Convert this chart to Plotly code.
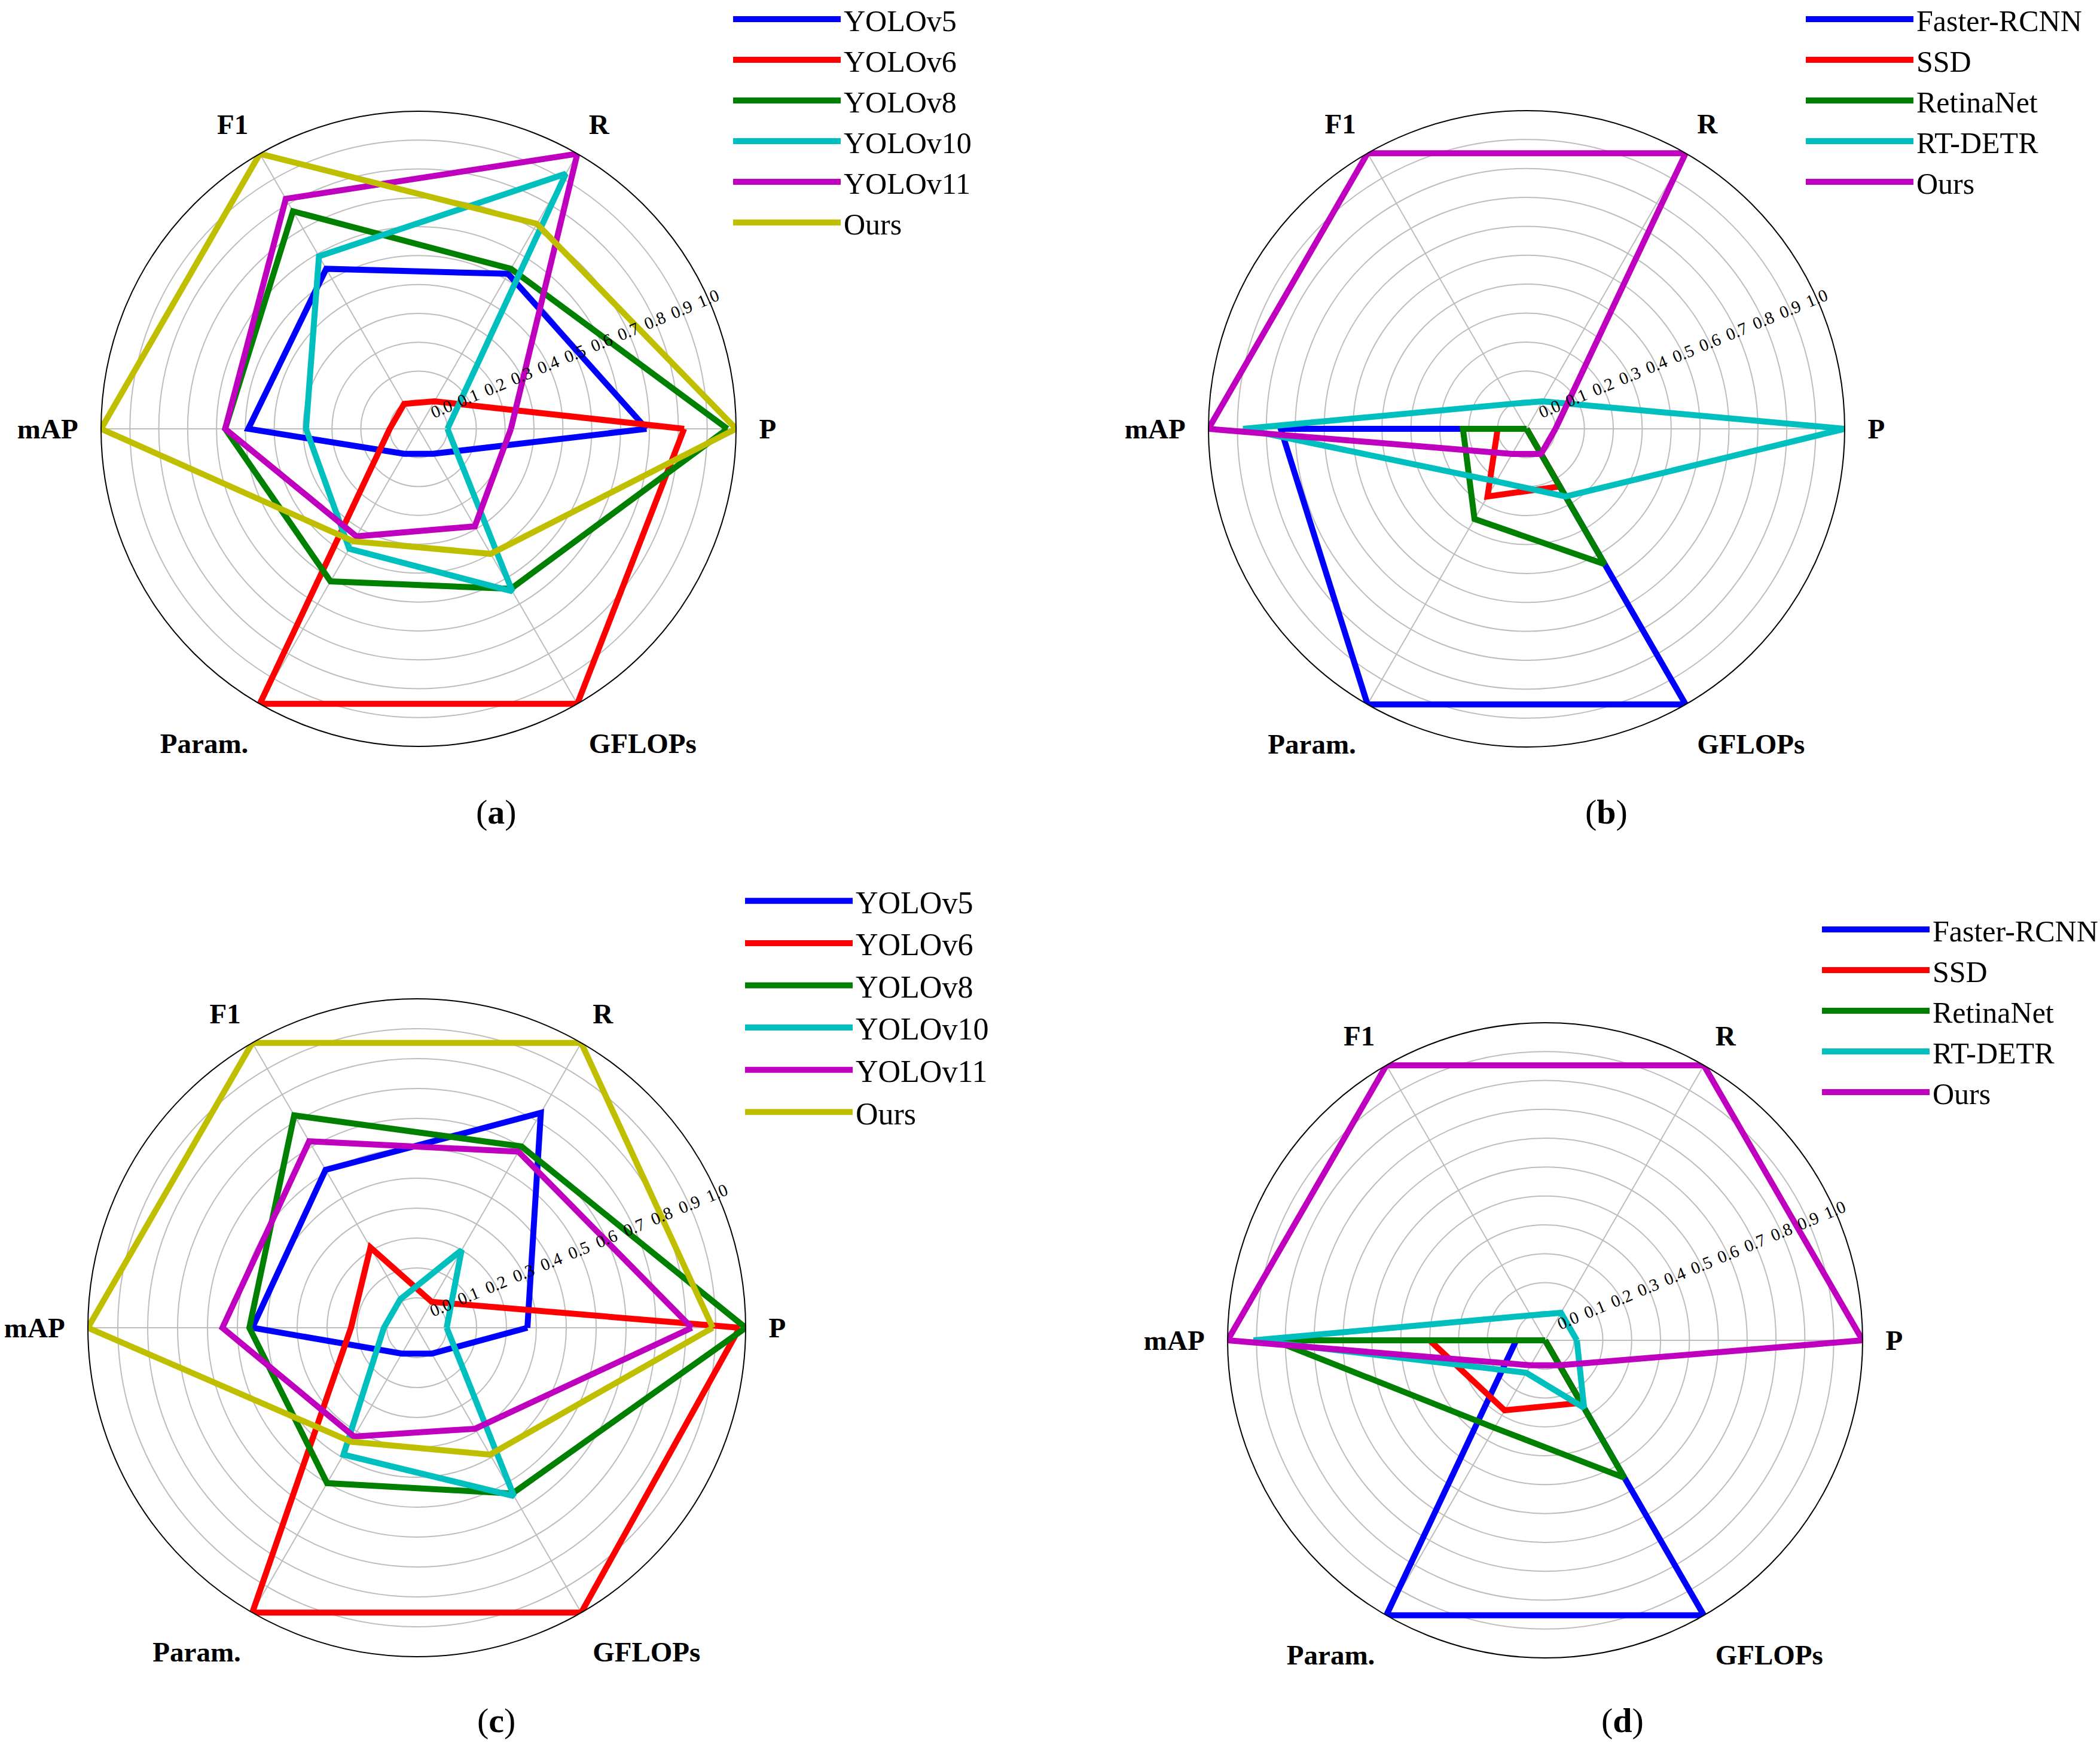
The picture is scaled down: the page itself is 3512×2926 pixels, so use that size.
import plotly.graph_objects as go

# ---------------- data ----------------
AXES = ["P", "R", "F1", "mAP", "Param.", "GFLOPs"]
RADIAL_TICKS = [0.0, 0.1, 0.2, 0.3, 0.4, 0.5, 0.6, 0.7, 0.8, 0.9, 1.0]

YOLO_MODELS = ["YOLOv5", "YOLOv6", "YOLOv8", "YOLOv10", "YOLOv11", "Ours"]
DET_MODELS = ["Faster-RCNN", "SSD", "RetinaNet", "RT-DETR", "Ours"]

# (a) YOLO comparison, values in AXES order
a_yolov5 = [0.69, 0.52, 0.54, 0.49, 0.00, 0.00]
a_yolov6 = [0.82, 0.01, 0.00, 0.00, 1.00, 1.00]
a_yolov8 = [0.97, 0.54, 0.77, 0.57, 0.51, 0.54]
a_yolov10 = [0.00, 0.92, 0.59, 0.29, 0.38, 0.55]
a_yolov11 = [0.22, 1.00, 0.82, 0.57, 0.33, 0.29]
a_ours = [1.00, 0.72, 1.00, 1.00, 0.35, 0.40]

# (b) detector comparison
b_faster = [-0.10, -0.10, -0.10, 0.75, 1.00, 1.00]
b_ssd = [-0.10, -0.10, -0.10, 0.00, 0.17, 0.13]
b_retina = [-0.10, -0.10, -0.10, 0.12, 0.26, 0.44]
b_rtdetr = [1.00, 0.01, 0.00, 0.88, 0.11, 0.17]
b_ours = [0.00, 1.00, 1.00, 1.00, 0.00, 0.00]

# (c) YOLO comparison
c_yolov5 = [0.27, 0.73, 0.51, 0.45, 0.00, 0.00]
c_yolov6 = [0.98, 0.00, 0.21, 0.12, 1.00, 1.00]
c_yolov8 = [1.00, 0.60, 0.72, 0.46, 0.50, 0.54]
c_yolov10 = [0.00, 0.20, 0.01, 0.01, 0.39, 0.55]
c_yolov11 = [0.82, 0.58, 0.62, 0.55, 0.32, 0.29]
c_ours = [0.89, 1.00, 1.00, 1.00, 0.34, 0.39]

# (d) detector comparison
d_faster = [-0.10, -0.10, -0.10, 0.00, 1.00, 1.00]
d_ssd = [-0.10, -0.10, -0.10, 0.30, 0.18, 0.15]
d_retina = [-0.10, -0.10, -0.10, 0.84, 0.25, 0.45]
d_rtdetr = [0.01, 0.01, 0.00, 0.91, 0.03, 0.17]
d_ours = [1.00, 1.00, 1.00, 1.00, 0.00, 0.00]

PANEL_LABELS = ["a", "b", "c", "d"]

# ---------------- styles ----------------
YOLO_COLORS = ["#0000FF", "#FF0000", "#008000", "#00BFBF", "#BF00BF", "#BFBF00"]
DET_COLORS = ["#0000FF", "#FF0000", "#008000", "#00BFBF", "#BF00BF"]
SERIF = "Liberation Serif, Times New Roman, serif"
W, H = 3512, 2926

panels = [
    dict(polar="polar", legend="legend", models=YOLO_MODELS, colors=YOLO_COLORS,
         values=[a_yolov5, a_yolov6, a_yolov8, a_yolov10, a_yolov11, a_ours],
         center=(700, 717), radius=531, legend_xy=(1221, -7), legend_font=50,
         caption_xy=(830, 1357)),
    dict(polar="polar2", legend="legend2", models=DET_MODELS, colors=DET_COLORS,
         values=[b_faster, b_ssd, b_retina, b_rtdetr, b_ours],
         center=(2553, 717), radius=532, legend_xy=(3015, -7), legend_font=50,
         caption_xy=(2686, 1357)),
    dict(polar="polar3", legend="legend3", models=YOLO_MODELS, colors=YOLO_COLORS,
         values=[c_yolov5, c_yolov6, c_yolov8, c_yolov10, c_yolov11, c_ours],
         center=(697, 2220), radius=550, legend_xy=(1241, 1466), legend_font=52,
         caption_xy=(830, 2876)),
    dict(polar="polar4", legend="legend4", models=DET_MODELS, colors=DET_COLORS,
         values=[d_faster, d_ssd, d_retina, d_rtdetr, d_ours],
         center=(2584, 2241), radius=531, legend_xy=(3042, 1515), legend_font=50,
         caption_xy=(2713, 2876)),
]

fig = go.Figure()
layout_updates = {}
annotations = []

for i, p in enumerate(panels):
    for name, color, vals in zip(p["models"], p["colors"], p["values"]):
        fig.add_trace(go.Scatterpolar(
            r=list(vals) + [vals[0]],
            theta=AXES + [AXES[0]],
            mode="lines",
            line=dict(color=color, width=10),
            name=name,
            subplot=p["polar"],
            legend=p["legend"],
        ))
    cx, cy = p["center"]
    R = p["radius"]
    layout_updates[p["polar"]] = dict(
        domain=dict(x=[(cx - R) / W, (cx + R) / W], y=[1 - (cy + R) / H, 1 - (cy - R) / H]),
        bgcolor="white",
        radialaxis=dict(
            range=[-0.1, 1.0],
            tickvals=RADIAL_TICKS,
            ticktext=[f"{v:.1f}" for v in RADIAL_TICKS],
            angle=22.5,
            tickangle=0,
            side="counterclockwise",
            showline=False,
            ticks="",
            gridcolor="#bdbdbd",
            gridwidth=2,
            tickfont=dict(family=SERIF, size=29, color="black"),
        ),
        angularaxis=dict(
            type="category",
            categoryorder="array",
            categoryarray=AXES,
            rotation=0,
            direction="counterclockwise",
            showline=True,
            linecolor="black",
            linewidth=2,
            gridcolor="#bdbdbd",
            gridwidth=2,
            ticks="outside",
            ticklen=28,
            tickcolor="rgba(0,0,0,0)",
            tickfont=dict(family=SERIF, size=47, color="black", weight="bold"),
        ),
    )
    lx, ly = p["legend_xy"]
    layout_updates[p["legend"]] = dict(
        x=lx / W, y=1 - ly / H, xanchor="left", yanchor="top",
        bgcolor="rgba(255,255,255,0)",
        font=dict(family=SERIF, size=p["legend_font"], color="black"),
        itemwidth=180,
        tracegroupgap=0,
    )
    capx, capy = p["caption_xy"]
    annotations.append(dict(
        x=capx / W, y=1 - capy / H, xref="paper", yref="paper",
        text=f"(<b>{PANEL_LABELS[i]}</b>)", showarrow=False,
        font=dict(family=SERIF, size=58, color="black"),
        xanchor="center", yanchor="middle",
    ))

fig.update_layout(
    width=W, height=H,
    margin=dict(l=0, r=0, t=0, b=0, autoexpand=False),
    paper_bgcolor="white",
    plot_bgcolor="white",
    showlegend=True,
    annotations=annotations,
    **layout_updates,
)

fig.write_html("out.html", config={"displayModeBar": False},
               post_script="document.body.style.margin='0';")
